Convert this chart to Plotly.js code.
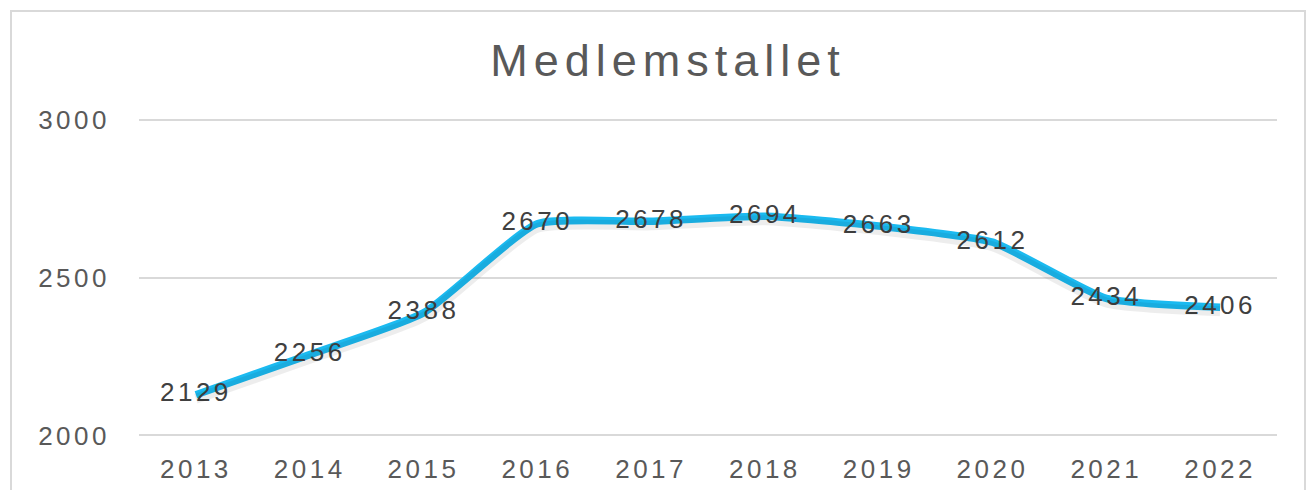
<!DOCTYPE html>
<html><head><meta charset="utf-8">
<script src="https://cdn.plot.ly/plotly-3.0.1.min.js"></script>
<style>
html,body{margin:0;padding:0;background:#fff}
#chart{width:1306px;height:490px}
#chart .xtick text, #chart .ytick text, #chart .textpoint text{letter-spacing:3.5px}
#chart .gtitle{letter-spacing:6px}
</style>
</head><body><div id="chart"></div>
<script>
const years = ['2013','2014','2015','2016','2017','2018','2019','2020','2021','2022'];
const members = [2129, 2256, 2388, 2670, 2678, 2694, 2663, 2612, 2434, 2406];
const yTicks = [2000, 2500, 3000];
const chartTitle = 'Medlemstallet';

const font = 'Liberation Sans, Arial, sans-serif';
const shadow = {
  x: years, y: members, type: 'scatter', mode: 'lines', yaxis: 'y2',
  line: {color: 'rgba(0,0,0,0.07)', width: 10, shape: 'spline', smoothing: 0.5},
  hoverinfo: 'skip', showlegend: false
};
const main = {
  x: years, y: members, type: 'scatter', mode: 'lines+text',
  text: members.map(String), textposition: 'middle center',
  textfont: {family: font, size: 26, color: '#404040'},
  line: {color: '#1BBAF0', width: 7.5, shape: 'spline', smoothing: 0.5},
  showlegend: false, cliponaxis: false
};
const layout = {
  width: 1306, height: 490,
  margin: {l: 139, r: 29, t: 117, b: 52},
  paper_bgcolor: '#fff', plot_bgcolor: '#fff',
  title: {text: chartTitle, font: {family: font, size: 45, color: '#595959'},
          x: 668/1306, xref: 'container', y: 1 - 60/490, yref: 'container', yanchor: 'middle'},
  xaxis: {type: 'category', range: [-0.5, 9.5], showgrid: false, zeroline: false, showline: false,
          ticks: '', tickfont: {family: font, size: 26, color: '#595959'}, ticklabelstandoff: 13, fixedrange: true},
  yaxis: {range: [1992, 3008], tickvals: yTicks, showgrid: true, gridcolor: '#D9D9D9', gridwidth: 2,
          zeroline: false, showline: false, ticks: '',
          tickfont: {family: font, size: 26, color: '#595959'}, ticklabelstandoff: 28, fixedrange: true},
  yaxis2: {overlaying: 'y', range: [1992 + 13, 3008 + 13], visible: false, fixedrange: true},
  shapes: [{type: 'rect', xref: 'paper', yref: 'paper',
            x0: (11 - 139) / 1138, x1: (1305 - 139) / 1138,
            y0: -0.5, y1: (438 - 11) / 321,
            line: {color: '#D9D9D9', width: 2}, fillcolor: 'rgba(0,0,0,0)', layer: 'below'}]
};
Plotly.newPlot('chart', [shadow, main], layout, {displayModeBar: false, staticPlot: true});
</script></body></html>
